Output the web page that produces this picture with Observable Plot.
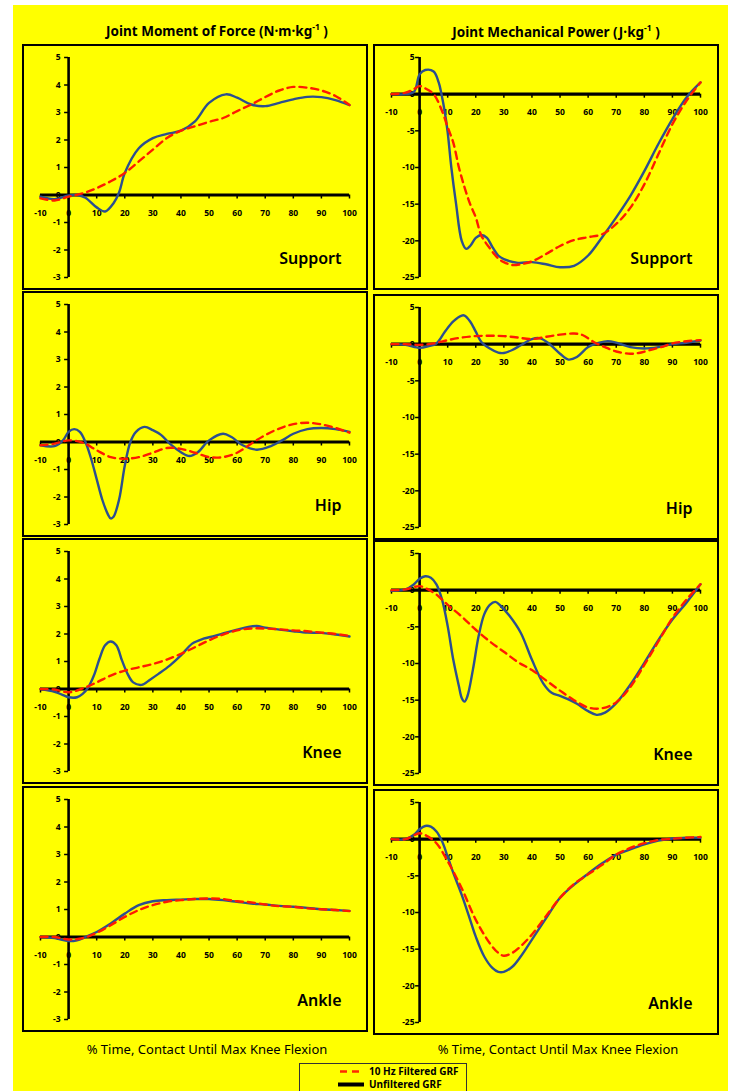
<!DOCTYPE html>
<html>
<head>
<meta charset="utf-8">
<script src="https://cdn.jsdelivr.net/npm/d3@7"></script>
<script src="https://cdn.jsdelivr.net/npm/@observablehq/plot@0.6"></script>
<style>
  html, body { margin: 0; padding: 0; background: #fff; }
  body { width: 733px; height: 1091px; overflow: hidden; position: relative; font-family: "Noto Sans", "DejaVu Sans", sans-serif; }
  #bg { position: absolute; left: 13px; top: 5px; width: 715px; height: 1090px; background: #ffff00; }
  .panel { position: absolute; box-sizing: border-box; border: 2px solid #000; width: 346px; height: 246px; }
  .panel svg { display: block; }
  .title { position: absolute; font-weight: bold; font-size: 13.5px; text-align: center; white-space: nowrap; }
  .title sup { font-size: 8.5px; }
  .xlabel { position: absolute; font-size: 13px; text-align: center; white-space: nowrap; }
  #legend { position: absolute; left: 299px; top: 1063px; width: 168px; height: 40px; box-sizing: border-box; border: 1.5px solid #333; }
  #legend .row { position: absolute; left: 0; font-size: 10px; font-weight: bold; white-space: nowrap; }
  #legend svg { position: absolute; left: 38px; }
  #legend span { position: absolute; left: 69px; }
</style>
</head>
<body>
<div id="bg"></div>
<div class="title" style="left:22px; width:390px; top:21px;">Joint Moment of Force (N·m·kg<sup>-1</sup> )</div>
<div class="title" style="left:373px; width:366px; top:22px;">Joint Mechanical Power (J·kg<sup>-1</sup> )</div>
<div class="xlabel" style="left:22px; width:370px; top:1040px;">% Time, Contact Until Max Knee Flexion</div>
<div class="xlabel" style="left:373px; width:370px; top:1040px;">% Time, Contact Until Max Knee Flexion</div>
<div id="legend">
  <div class="row" style="top:0px; height:15px; width:166px;">
    <svg width="28" height="15"><line x1="2" y1="7.5" x2="26" y2="7.5" stroke="#ff2a00" stroke-width="2.5" stroke-dasharray="7,5"></line></svg>
    <span style="top:0px;">10 Hz Filtered GRF</span>
  </div>
  <div class="row" style="top:13px; height:15px; width:166px;">
    <svg width="28" height="15"><line x1="0" y1="7.5" x2="26" y2="7.5" stroke="#000" stroke-width="4"></line></svg>
    <span style="top:0px;">Unfiltered GRF</span>
  </div>
</div>
<script>
// ---- tick labels & categories ----
const xTicks = [-10, 0, 10, 20, 30, 40, 50, 60, 70, 80, 90, 100];
const momentTicks = [-3, -2, -1, 0, 1, 2, 3, 4, 5];
const powerTicks = [-25, -20, -15, -10, -5, 0, 5];
const jointNames = ["Support", "Hip", "Knee", "Ankle"];
const seriesNames = ["10 Hz Filtered GRF", "Unfiltered GRF"];

// ---- Joint moment of force (N·m·kg-1): [x %, value] ----
const supportMomentRaw = [[-10,-0.06],[-5,-0.15],[0,-0.02],[3,0],[6,-0.1],[10,-0.45],[13,-0.6],[16,-0.3],[18,0.1],[20,0.8],[25,1.7],[30,2.07],[35,2.22],[40,2.34],[45,2.68],[50,3.35],[56,3.66],[60,3.54],[65,3.29],[70,3.23],[75,3.35],[80,3.48],[85,3.57],[90,3.56],[95,3.45],[100,3.27]];
const supportMomentFilt = [[-10,-0.12],[-5,-0.2],[0,-0.06],[5,0.06],[10,0.25],[15,0.5],[20,0.8],[25,1.22],[30,1.65],[35,2.07],[40,2.34],[45,2.5],[50,2.66],[55,2.8],[60,3.05],[65,3.29],[70,3.56],[75,3.8],[80,3.93],[85,3.9],[90,3.8],[95,3.6],[100,3.27]];
const hipMomentRaw = [[-10,-0.12],[-5,-0.15],[-2,0.06],[0,0.37],[2,0.47],[4,0.37],[6,0],[8,-0.6],[10,-1.35],[12,-2.1],[14,-2.63],[15,-2.78],[16,-2.72],[18,-2.08],[20,-0.86],[22,0],[24,0.37],[27,0.55],[30,0.43],[33,0.25],[36,-0.06],[40,-0.37],[43,-0.51],[46,-0.37],[50,0.06],[55,0.3],[58,0.18],[62,-0.12],[67,-0.28],[72,-0.15],[76,0.06],[80,0.3],[85,0.47],[90,0.51],[95,0.47],[100,0.37]];
const hipMomentFilt = [[-10,-0.12],[-5,-0.06],[0,0.06],[5,-0.02],[10,-0.3],[15,-0.55],[20,-0.61],[25,-0.55],[30,-0.39],[35,-0.22],[40,-0.25],[45,-0.39],[50,-0.55],[55,-0.55],[60,-0.39],[65,-0.06],[70,0.25],[75,0.49],[80,0.65],[85,0.7],[90,0.64],[95,0.51],[100,0.34]];
const kneeMomentRaw = [[-10,0],[-5,-0.1],[-2,-0.22],[0,-0.3],[3,-0.3],[5,-0.18],[7,0.06],[9,0.49],[11,1.1],[13,1.59],[15,1.73],[17,1.59],[19,1.04],[21,0.55],[23,0.24],[26,0.15],[29,0.34],[32,0.55],[36,0.85],[40,1.22],[44,1.65],[48,1.83],[52,1.93],[56,2.05],[60,2.16],[64,2.26],[67,2.29],[70,2.23],[75,2.16],[80,2.1],[85,2.05],[90,2.04],[95,1.98],[100,1.91]];
const kneeMomentFilt = [[-10,0],[-5,-0.02],[0,-0.12],[5,0.02],[10,0.24],[15,0.49],[20,0.67],[25,0.79],[30,0.91],[35,1.07],[40,1.28],[45,1.52],[50,1.77],[55,1.98],[60,2.13],[65,2.2],[70,2.2],[75,2.17],[80,2.13],[85,2.1],[90,2.05],[95,2.0],[100,1.93]];
const ankleMomentRaw = [[-10,0],[-5,-0.04],[0,-0.15],[3,-0.12],[6,0],[10,0.18],[15,0.49],[20,0.85],[25,1.16],[30,1.3],[35,1.34],[40,1.36],[45,1.38],[50,1.38],[55,1.34],[60,1.28],[65,1.22],[70,1.18],[75,1.13],[80,1.1],[85,1.06],[90,1.01],[95,0.98],[100,0.95]];
const ankleMomentFilt = [[-10,0],[-5,0],[0,-0.09],[5,-0.04],[10,0.15],[15,0.43],[20,0.73],[25,0.98],[30,1.16],[35,1.28],[40,1.34],[45,1.38],[50,1.4],[55,1.38],[60,1.3],[65,1.26],[70,1.18],[75,1.12],[80,1.1],[85,1.04],[90,1.01],[95,0.98],[100,0.94]];

// ---- Joint mechanical power (J·kg-1): [x %, value] ----
const supportPowerRaw = [[-10,0],[-5,0],[-2,0.3],[0,2.7],[2,3.3],[5,3.1],[6.8,1.6],[7.8,0],[9,-2.5],[10,-5.2],[11.3,-10],[13,-15],[15,-20],[16.6,-21.1],[18,-20.7],[20,-19.6],[22,-19.2],[24,-19.6],[26,-20.9],[28,-22],[30,-22.5],[35,-23],[40,-22.9],[45,-23.2],[50,-23.6],[55,-23.4],[60,-22],[65,-19.5],[70,-16.8],[75,-13.9],[80,-10.5],[85,-6.8],[90,-3.4],[95,-0.45],[100,1.6]];
const supportPowerFilt = [[-10,0],[-5,0.2],[-2,0.7],[0,1.1],[2,0.8],[5,0],[8,-2.3],[10,-4.5],[12,-6.6],[14,-10],[16,-12.7],[18,-15],[20,-16.8],[22,-19.3],[25,-21],[28,-22.4],[30,-22.9],[33,-23.3],[36,-23.2],[40,-22.8],[45,-21.8],[50,-20.7],[55,-19.9],[60,-19.5],[65,-19.1],[70,-17.7],[75,-15.5],[80,-12.3],[85,-8.2],[90,-4.1],[95,-0.9],[100,1.6]];
const hipPowerRaw = [[-10,0],[-5,-0.1],[0,-0.5],[3,-0.3],[6,0.1],[9,1.7],[12,3.1],[15,3.9],[16,3.9],[18,3.1],[20,1.7],[22,0.3],[25,-0.6],[28,-1.15],[30,-1.2],[33,-0.8],[36,-0.14],[40,0.7],[43,0.8],[46,0.1],[50,-1.3],[53,-2.1],[56,-1.75],[60,-0.4],[64,0.2],[67,0.4],[70,0.2],[75,-0.4],[80,-0.6],[85,-0.4],[90,0],[95,0.2],[100,0.5]];
const hipPowerFilt = [[-10,0],[-5,0],[0,-0.1],[5,0.1],[10,0.55],[15,0.9],[20,1.1],[25,1.15],[30,1.1],[35,0.9],[40,0.7],[45,1.0],[50,1.3],[55,1.45],[58,1.25],[62,0.3],[66,-0.4],[70,-1.0],[75,-1.3],[78,-1.2],[82,-0.8],[86,-0.4],[90,0.1],[95,0.4],[100,0.55]];
const kneePowerRaw = [[-10,-0.1],[-5,0.1],[-2,0.8],[0,1.55],[2,1.9],[4,1.7],[6,0.8],[8,-1.3],[10,-4.9],[12,-9.5],[14,-13.1],[15,-14.7],[16,-15.2],[17,-14.5],[19,-10.8],[21,-6.3],[23,-3.3],[25,-2.0],[27,-1.6],[29,-2.2],[32,-3.5],[36,-5.8],[40,-9.5],[44,-12.7],[47,-14],[50,-14.4],[53,-14.9],[56,-15.5],[60,-16.5],[63,-17],[66,-16.7],[70,-15.4],[75,-12.9],[80,-9.9],[85,-6.8],[90,-4],[95,-1.7],[100,0.8]];
const kneePowerFilt = [[-10,0],[-5,0.1],[0,0.55],[3,0.1],[6,-0.6],[10,-2],[15,-3.6],[20,-5.4],[25,-7],[30,-8.4],[35,-9.8],[40,-10.9],[45,-12.3],[50,-13.7],[55,-15.0],[60,-16],[65,-16.1],[70,-15.3],[75,-13.2],[80,-10.2],[85,-7],[90,-3.8],[95,-1.3],[100,0.8]];
const anklePowerRaw = [[-10,0],[-5,0],[-2,0.6],[0,1.35],[2,1.8],[4,1.7],[6,1.05],[8,-0.3],[10,-2.4],[12,-4.6],[15,-7.6],[18,-11],[20,-13.3],[23,-16],[26,-17.6],[28,-18.1],[30,-18.1],[33,-17.4],[36,-16],[40,-13.7],[45,-10.8],[50,-8],[55,-6.2],[60,-4.7],[65,-3.3],[70,-2.1],[75,-1.4],[80,-0.7],[85,-0.2],[90,0.1],[95,0.2],[100,0.2]];
const anklePowerFilt = [[-10,0],[-5,0],[0,0.8],[3,0.35],[6,-0.55],[10,-3],[15,-6.7],[20,-11],[25,-14.2],[28,-15.5],[30,-15.9],[33,-15.5],[36,-14.6],[40,-13],[45,-10.5],[50,-8],[55,-6.1],[60,-4.8],[65,-3.5],[70,-2.1],[75,-1.2],[80,-0.55],[85,-0.1],[90,0.05],[95,0.2],[100,0.3]];

const momentRaw = [supportMomentRaw, hipMomentRaw, kneeMomentRaw, ankleMomentRaw];
const momentFilt = [supportMomentFilt, hipMomentFilt, kneeMomentFilt, ankleMomentFilt];
const powerRaw = [supportPowerRaw, hipPowerRaw, kneePowerRaw, anklePowerRaw];
const powerFilt = [supportPowerFilt, hipPowerFilt, kneePowerFilt, anklePowerFilt];

const BLUE = "#2c4f8f";
const RED = "#ff1a00";
const FONT = "'Noto Sans', 'DejaVu Sans', sans-serif";

function panel(raw, filt, yDomain, yTicks, name, yLabelDx) {
  const W = 342, H = 242;
  return Plot.plot({
    width: W, height: H,
    marginLeft: 16, marginRight: 17, marginTop: 11, marginBottom: 11,
    x: {domain: [-10, 100], axis: null},
    y: {domain: yDomain, axis: null},
    style: {background: "transparent", overflow: "visible", fontFamily: FONT},
    marks: [
      Plot.ruleY([0], {x1: -10, x2: 100, stroke: "#000", strokeWidth: 3.2}),
      Plot.ruleX([0], {y1: yDomain[0], y2: yDomain[1], stroke: "#000", strokeWidth: 2.6}),
      Plot.ruleY(yTicks, {y: d => d, x1: 0, x2: 0, insetLeft: -4, stroke: "#000", strokeWidth: 1.5}),
      Plot.ruleX(xTicks, {x: d => d, y1: 0, y2: 0, insetBottom: -4, stroke: "#000", strokeWidth: 1.5}),
      Plot.text(yTicks, {x: 0, y: d => d, text: d => String(d), dx: yLabelDx, textAnchor: "end", fontSize: 8.5, fontWeight: "bold", fill: "#000"}),
      Plot.text(xTicks, {x: d => d, y: 0, text: d => String(d), dy: 18, fontSize: 8.5, fontWeight: "bold", fill: "#000"}),
      Plot.line(raw, {x: d => d[0], y: d => d[1], stroke: BLUE, strokeWidth: 2.4, curve: "catmull-rom"}),
      Plot.line(filt, {x: d => d[0], y: d => d[1], stroke: RED, strokeWidth: 2.4, strokeDasharray: "7,5", curve: "catmull-rom"}),
      Plot.text([name], {frameAnchor: "bottom-right", text: d => d, textAnchor: "end", lineAnchor: "bottom", dx: -8, dy: -14, fontSize: 16, fontWeight: 600, fill: "#000"})
    ]
  });
}

const leftTops = [44, 291, 538, 786];
const rightTops = [44, 294, 540, 789];
for (let i = 0; i < 4; i++) {
  const l = document.createElement("div");
  l.className = "panel";
  l.style.left = "22px"; l.style.top = leftTops[i] + "px";
  l.appendChild(panel(momentRaw[i], momentFilt[i], [-3, 5], momentTicks, jointNames[i], -8));
  document.body.appendChild(l);
  const r = document.createElement("div");
  r.className = "panel";
  r.style.left = "373px"; r.style.top = rightTops[i] + "px";
  r.appendChild(panel(powerRaw[i], powerFilt[i], [-25, 5], powerTicks, jointNames[i], -5));
  document.body.appendChild(r);
}
</script>
</body>
</html>
